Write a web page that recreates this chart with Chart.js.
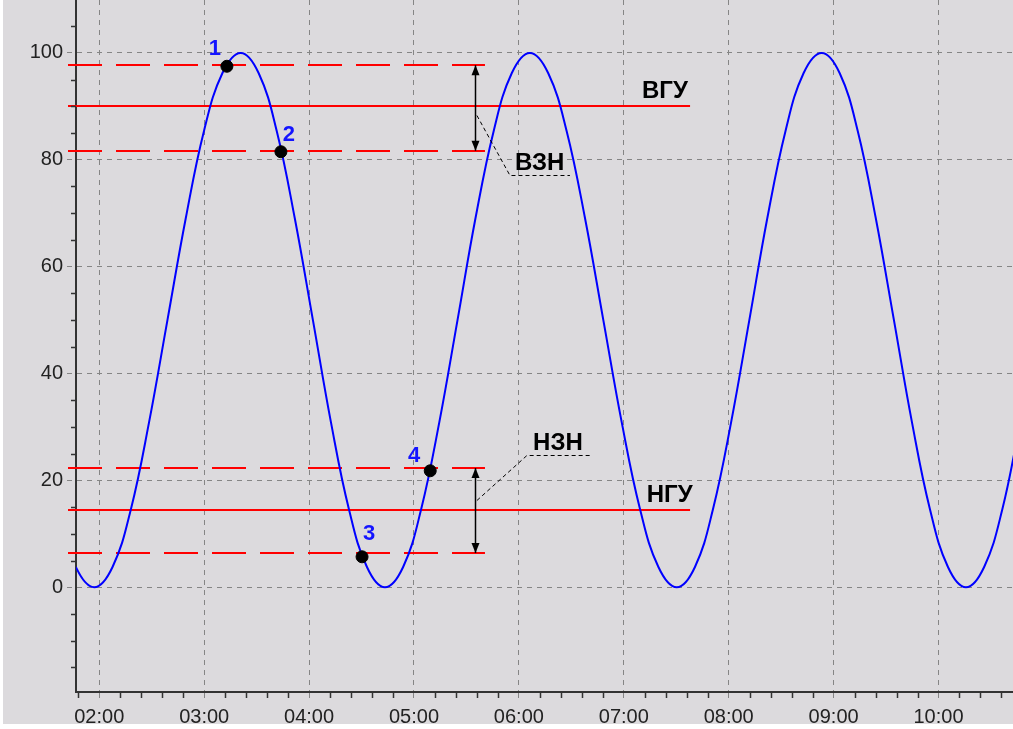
<!DOCTYPE html>
<html>
<head>
<meta charset="utf-8">
<script src="https://cdn.jsdelivr.net/npm/chart.js@4.4.0/dist/chart.umd.min.js"></script>
<style>
  html, body { margin: 0; padding: 0; background: #fff; }
  #wrap { position: absolute; left: 3px; top: 0; width: 1010px; height: 724px; background: #dcdadd; }
</style>
</head>
<body>
<div id="wrap"><canvas id="chart"></canvas></div>
<script>
// Time axis is in minutes after midnight
const sampleTimes = [96.1, 106.6, 117.1, 127.6, 138.1, 148.5, 159.0, 169.5, 179.9, 190.4, 200.9,
  211.2, 221.5, 231.8, 242.2, 252.5, 262.8, 273.1, 283.4,
  293.8, 304.1, 314.5, 324.9, 335.2, 345.6, 355.9, 366.3,
  376.8, 387.3, 397.8, 408.3, 418.8, 429.3, 439.8, 450.3,
  460.7, 471.0, 481.4, 491.8, 502.1, 512.5, 522.8, 533.2,
  543.5, 553.8, 564.1, 574.5, 584.8, 595.1, 605.4, 615.7,
  626.1, 636.5, 646.8];
const levels = [14.6, 3.8, 0, 3.8, 14.6, 30.9, 50, 69.1, 85.4, 96.2, 100,
  96.2, 85.4, 69.1, 50, 30.9, 14.6, 3.8, 0,
  3.8, 14.6, 30.9, 50, 69.1, 85.4, 96.2, 100,
  96.2, 85.4, 69.1, 50, 30.9, 14.6, 3.8, 0,
  3.8, 14.6, 30.9, 50, 69.1, 85.4, 96.2, 100,
  96.2, 85.4, 69.1, 50, 30.9, 14.6, 3.8, 0,
  3.8, 14.6, 30.9];

const hourTicks = [120, 180, 240, 300, 360, 420, 480, 540, 600];
const yTicks = [0, 20, 40, 60, 80, 100];

// numbered points
const markTimes = [193.0, 223.9, 270.3, 309.3];
const markValues = [97.5, 81.5, 5.7, 21.8];
const markLabels = ['1', '2', '3', '4'];

// limits
const upperLimit = 90;
const upperBand = [97.7, 81.7];
const lowerLimit = 14.4;
const lowerBand = [22.3, 6.4];

// label offsets for numbered points (px)
const markOffsets = [[-12, -17], [8, -17], [7, -23], [-16, -15]];

const limitEnd = 457.9;   // solid lines end time
const bandEnd = 340.6;    // dashed lines end time
const arrowTime = 334.9;

const texts = [
  { text: 'ВГУ', t: 430.4, v: 91.5 },
  { text: 'НГУ', t: 433.1, v: 16.0 },
  { text: 'ВЗН', t: 357.8, v: 78.1 },
  { text: 'НЗН', t: 368.1, v: 25.7 }
];
const leaders = [
  [[336.0, 88.4], [354.9, 77.2], [389.2, 77.2]],
  [[336.0, 16.4], [364.6, 24.8], [400.7, 24.8]]
];

function hhmm(m) {
  const h = Math.floor(m / 60), mm = Math.round(m % 60);
  return String(h).padStart(2, '0') + ':' + String(mm).padStart(2, '0');
}

function hline(ctx, x1, x2, y) {
  ctx.beginPath();
  ctx.moveTo(x1, y);
  ctx.lineTo(x2, y);
  ctx.stroke();
}

function arrow(ctx, x, y1, y2) {
  ctx.beginPath();
  ctx.moveTo(x, y1);
  ctx.lineTo(x, y2);
  ctx.stroke();
  [[y1, 1], [y2, -1]].forEach(([y, d]) => {
    ctx.beginPath();
    ctx.moveTo(x, y);
    ctx.lineTo(x - 4, y + d * 10);
    ctx.lineTo(x + 4, y + d * 10);
    ctx.closePath();
    ctx.fill();
  });
}

const limitsPlugin = {
  id: 'limits',
  beforeDatasetsDraw(chart) {
    const { ctx, scales: { x, y }, chartArea } = chart;
    const x0 = chartArea.left - 8;
    ctx.save();
    ctx.strokeStyle = '#ff0000';
    ctx.lineWidth = 2;
    [upperLimit, lowerLimit].forEach(v => hline(ctx, x0, x.getPixelForValue(limitEnd), Math.round(y.getPixelForValue(v))));
    ctx.setLineDash([34, 14]);
    upperBand.concat(lowerBand).forEach(v => hline(ctx, x0, x.getPixelForValue(bandEnd), Math.round(y.getPixelForValue(v))));
    ctx.restore();
  },
  afterDraw(chart) {
    const { ctx, scales: { x, y }, chartArea } = chart;
    ctx.save();
    // minor ticks
    ctx.strokeStyle = '#333';
    ctx.lineWidth = 1.5;
    for (let t = 108; t <= x.max; t += 12) {
      if (t % 60 === 0) continue;
      const px = Math.round(x.getPixelForValue(t)) + 0.5;
      ctx.beginPath(); ctx.moveTo(px, chartArea.bottom); ctx.lineTo(px, chartArea.bottom + 6); ctx.stroke();
    }
    for (let v = -15; v <= 105; v += 5) {
      if (v % 20 === 0) continue;
      const py = Math.round(y.getPixelForValue(v)) + 0.5;
      ctx.beginPath(); ctx.moveTo(chartArea.left - 5, py); ctx.lineTo(chartArea.left, py); ctx.stroke();
    }
    // arrows
    ctx.strokeStyle = '#000';
    ctx.fillStyle = '#000';
    ctx.lineWidth = 1.5;
    const ax = Math.round(x.getPixelForValue(arrowTime)) + 0.5;
    arrow(ctx, ax, y.getPixelForValue(upperBand[0]), y.getPixelForValue(upperBand[1]));
    arrow(ctx, ax, y.getPixelForValue(lowerBand[0]), y.getPixelForValue(lowerBand[1]));
    // leader lines
    ctx.lineWidth = 1;
    ctx.setLineDash([4, 3]);
    leaders.forEach(pts => {
      ctx.beginPath();
      pts.forEach(([t, v], i) => {
        const px = x.getPixelForValue(t), py = Math.round(y.getPixelForValue(v)) + 0.5;
        if (i === 0) ctx.moveTo(px, py); else ctx.lineTo(px, py);
      });
      ctx.stroke();
    });
    ctx.setLineDash([]);
    // texts
    ctx.font = 'bold 24px "Liberation Sans", Arial, sans-serif';
    ctx.textAlign = 'left';
    ctx.textBaseline = 'alphabetic';
    texts.forEach(a => ctx.fillText(a.text, x.getPixelForValue(a.t), y.getPixelForValue(a.v)));
    // point numbers
    const meta = chart.getDatasetMeta(0);
    ctx.fillStyle = '#1414ff';
    ctx.font = 'bold 22px "Liberation Sans", Arial, sans-serif';
    ctx.textAlign = 'center';
    ctx.textBaseline = 'middle';
    meta.data.forEach((pt, i) => {
      ctx.fillText(markLabels[i], pt.x + markOffsets[i][0], pt.y + markOffsets[i][1]);
    });
    ctx.restore();
  }
};

new Chart(document.getElementById('chart'), {
  type: 'line',
  data: {
    datasets: [
      {
        type: 'scatter',
        data: markTimes.map((t, i) => ({ x: t, y: markValues[i] })),
        pointRadius: 6,
        pointBackgroundColor: '#000',
        pointBorderColor: '#000',
        showLine: false
      },
      {
        data: sampleTimes.map((t, i) => ({ x: t, y: levels[i] })),
        borderColor: '#0000ff',
        borderWidth: 2,
        pointRadius: 0,
        tension: 0.4,
        fill: false
      }
    ]
  },
  options: {
    responsive: true,
    maintainAspectRatio: false,
    animation: false,
    layout: { padding: 0, autoPadding: false },
    plugins: { legend: { display: false }, tooltip: { enabled: false } },
    scales: {
      x: {
        type: 'linear',
        min: 106.7,
        max: 642.6,
        afterBuildTicks: s => { s.ticks = hourTicks.map(v => ({ value: v })); },
        afterFit: s => { s.height = 32; s.paddingLeft = 0; s.paddingRight = 0; },
        grid: { color: '#858585', lineWidth: 1, tickLength: 10, tickColor: '#858585', tickBorderDash: [5, 5] },
        border: { color: '#333', width: 2, dash: [5, 5] },
        ticks: {
          font: { family: 'Liberation Sans', size: 20 },
          color: '#222',
          padding: 3,
          maxRotation: 0,
          callback: v => hhmm(v)
        }
      },
      y: {
        min: -19.6,
        max: 109.9,
        afterBuildTicks: s => { s.ticks = yTicks.map(v => ({ value: v })); },
        afterFit: s => { s.width = 73; s.paddingTop = 0; s.paddingBottom = 0; },
        grid: { color: '#858585', lineWidth: 1, tickLength: 9, tickColor: '#858585', tickBorderDash: [5, 5] },
        border: { color: '#333', width: 2, dash: [5, 5] },
        ticks: {
          font: { family: 'Liberation Sans', size: 20 },
          color: '#222',
          padding: 4
        }
      }
    }
  },
  plugins: [limitsPlugin]
});
</script>
</body>
</html>
